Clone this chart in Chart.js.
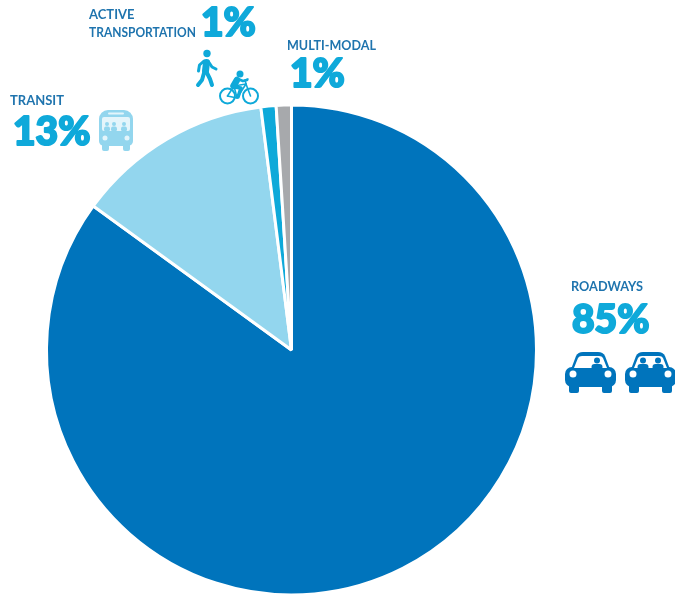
<!DOCTYPE html>
<html>
<head>
<meta charset="utf-8">
<title>Spending by mode</title>
<script src="https://cdn.jsdelivr.net/npm/chart.js@4"></script>
<style>
    html, body { margin: 0; padding: 0; background: #fff; overflow: hidden; height: 594px; }
    #modeChart { display: block; }
</style>
</head>
<body>
<!-- canvas runs a little past the window so the pie's lower edge sits on the page edge -->
<canvas id="modeChart" width="675" height="604"></canvas>
<script>
// Share per mode, clockwise from twelve o'clock
const modes = ['ROADWAYS', 'TRANSIT', 'ACTIVE TRANSPORTATION', 'MULTI-MODAL'];
const shares = [85, 13, 1, 1];
const sliceColors = ['#0074BC', '#93D6EE', '#0EA9D9', '#A7A9AC'];

const headingColor = '#1F74AE';
const percentColor = '#0FA9DA';

// Text blocks around the pie
const headingFont = 'bold 13px Lato, "Open Sans", sans-serif';
const percentFont = '900 39px Lato, "DejaVu Sans", sans-serif';

const labelSpots = [
    { lines: [['ROADWAYS', 571, 291, 72]], percent: [572, 333] },
    { lines: [['TRANSIT', 10, 105, 54]], percent: [13, 145] },
    { lines: [['ACTIVE', 89, 19], ['TRANSPORTATION', 89, 37, 107]], percent: [201, 36] },
    { lines: [['MULTI-MODAL', 287, 50, 89]], percent: [290, 87] }
];

function drawCar(ctx, x, y, heads) {
    ctx.save();
    ctx.translate(x, y);
    ctx.fillStyle = sliceColors[0];
    // roof and cabin
    ctx.beginPath();
    ctx.moveTo(5, 20);
    ctx.lineTo(11, 4);
    ctx.quadraticCurveTo(13, 0, 18, 0);
    ctx.lineTo(33, 0);
    ctx.quadraticCurveTo(38, 0, 40, 4);
    ctx.lineTo(46, 20);
    ctx.closePath();
    ctx.fill();
    // body and wheels
    ctx.beginPath();
    ctx.roundRect(0, 15, 51, 20, 7);
    ctx.fill();
    ctx.beginPath();
    ctx.roundRect(4, 30, 10, 11, 2);
    ctx.roundRect(37, 30, 10, 11, 2);
    ctx.fill();
    // windscreen
    ctx.fillStyle = '#fff';
    ctx.beginPath();
    ctx.moveTo(9, 16);
    ctx.lineTo(13, 6);
    ctx.quadraticCurveTo(14, 4, 17, 4);
    ctx.lineTo(34, 4);
    ctx.quadraticCurveTo(37, 4, 38, 6);
    ctx.lineTo(42, 16);
    ctx.closePath();
    ctx.fill();
    // headlights
    ctx.beginPath();
    ctx.arc(8, 22, 3.5, 0, Math.PI * 2);
    ctx.arc(43, 22, 3.5, 0, Math.PI * 2);
    ctx.fill();
    // people in the front seats
    ctx.fillStyle = sliceColors[0];
    heads.forEach(hx => {
        ctx.beginPath();
        ctx.arc(hx, 8.5, 3, 0, Math.PI * 2);
        ctx.fill();
        ctx.beginPath();
        ctx.roundRect(hx - 5.5, 12, 11, 6, 3);
        ctx.fill();
    });
    ctx.restore();
}

function drawBus(ctx, x, y) {
    ctx.save();
    ctx.translate(x, y);
    ctx.fillStyle = sliceColors[1];
    ctx.beginPath();
    ctx.roundRect(0, 0, 34, 36, [9, 9, 5, 5]);
    ctx.fill();
    ctx.beginPath();
    ctx.roundRect(3, 33, 7, 8, 2);
    ctx.roundRect(24, 33, 7, 8, 2);
    ctx.fill();
    ctx.fillStyle = '#E4F5FB';
    ctx.beginPath();
    ctx.roundRect(3, 7, 28, 14, 2);
    ctx.fill();
    ctx.beginPath();
    ctx.roundRect(9, 2.5, 16, 2, 1);
    ctx.fill();
    ctx.beginPath();
    ctx.arc(6, 28, 2.5, 0, Math.PI * 2);
    ctx.arc(28, 28, 2.5, 0, Math.PI * 2);
    ctx.fill();
    // passengers
    ctx.fillStyle = sliceColors[1];
    [8, 15, 25].forEach(px => {
        ctx.beginPath();
        ctx.arc(px, 14, 2, 0, Math.PI * 2);
        ctx.fill();
        ctx.beginPath();
        ctx.roundRect(px - 3, 16.5, 6, 5, 2);
        ctx.fill();
    });
    ctx.restore();
}

function strokePath(ctx, width, pts) {
    ctx.lineWidth = width;
    ctx.beginPath();
    pts.forEach((p, i) => i ? ctx.lineTo(p[0], p[1]) : ctx.moveTo(p[0], p[1]));
    ctx.stroke();
}

function drawWalker(ctx, x, y) {
    ctx.save();
    ctx.translate(x, y);
    ctx.fillStyle = ctx.strokeStyle = sliceColors[2];
    ctx.lineCap = ctx.lineJoin = 'round';
    ctx.beginPath();
    ctx.arc(11, 3.5, 3.7, 0, Math.PI * 2);
    ctx.fill();
    strokePath(ctx, 7, [[10.5, 12.5], [9.5, 21]]);          // torso
    strokePath(ctx, 3, [[8, 11], [3.5, 15], [2.5, 21]]);    // back arm
    strokePath(ctx, 3, [[12, 11], [16, 17], [20, 19]]);     // front arm
    strokePath(ctx, 4, [[8, 23], [6, 30], [2, 35]]);        // back leg
    strokePath(ctx, 4, [[11, 23], [14, 29], [16, 35]]);     // front leg
    ctx.restore();
}

function drawCyclist(ctx, x, y) {
    ctx.save();
    ctx.translate(x, y);
    ctx.fillStyle = ctx.strokeStyle = sliceColors[2];
    ctx.lineCap = ctx.lineJoin = 'round';
    // wheels
    ctx.lineWidth = 2;
    ctx.beginPath();
    ctx.arc(8.5, 25, 7.5, 0, Math.PI * 2);
    ctx.moveTo(39, 25);
    ctx.arc(31.5, 25, 7.5, 0, Math.PI * 2);
    ctx.stroke();
    // frame
    strokePath(ctx, 1.6, [[8.5, 25], [15, 15], [27, 13], [31.5, 25]]);
    strokePath(ctx, 1.6, [[18, 27], [27, 13]]);
    strokePath(ctx, 1.6, [[15, 15], [18, 27], [8.5, 25]]);
    strokePath(ctx, 1.6, [[27, 13], [26, 9], [29, 8]]);
    // rider
    ctx.beginPath();
    ctx.arc(21, 3, 3.5, 0, Math.PI * 2);
    ctx.fill();
    strokePath(ctx, 6.5, [[18, 9], [14.5, 15]]);
    strokePath(ctx, 2.8, [[19, 8], [24, 10], [28, 9]]);
    strokePath(ctx, 3.6, [[15, 16], [22, 17], [19, 26]]);
    ctx.restore();
}

// Headings, percentages and mode icons
const annotationPlugin = {
    id: 'annotations',
    afterDraw(chart) {
        const ctx = chart.ctx;
        ctx.save();
        ctx.textAlign = 'left';
        ctx.textBaseline = 'alphabetic';
        labelSpots.forEach((spot, i) => {
            ctx.font = headingFont;
            ctx.fillStyle = headingColor;
            spot.lines.forEach(line => ctx.fillText(line[0], line[1], line[2], line[3]));
            // extra stroke gives the numerals their heavy, rounded look
            const text = shares[i] + '%';
            ctx.font = percentFont;
            ctx.fillStyle = ctx.strokeStyle = percentColor;
            ctx.lineWidth = 2;
            ctx.lineJoin = 'round';
            ctx.strokeText(text, spot.percent[0], spot.percent[1]);
            ctx.fillText(text, spot.percent[0], spot.percent[1]);
        });
        ctx.restore();

        drawCar(ctx, 565, 352, [32]);
        drawCar(ctx, 625, 352, [18, 33]);
        drawBus(ctx, 99, 110);
        drawWalker(ctx, 196, 50);
        drawCyclist(ctx, 219, 71);
    }
};

new Chart(document.getElementById('modeChart'), {
    type: 'pie',
    data: {
        labels: modes,
        datasets: [{
            data: shares,
            backgroundColor: sliceColors,
            borderColor: '#fff',
            borderWidth: 3
        }]
    },
    options: {
        responsive: false,
        animation: false,
        layout: { padding: { left: 45, right: 137, top: 103, bottom: 7 } },
        plugins: {
            legend: { display: false },
            tooltip: { enabled: false }
        }
    },
    plugins: [annotationPlugin]
});
</script>
</body>
</html>
